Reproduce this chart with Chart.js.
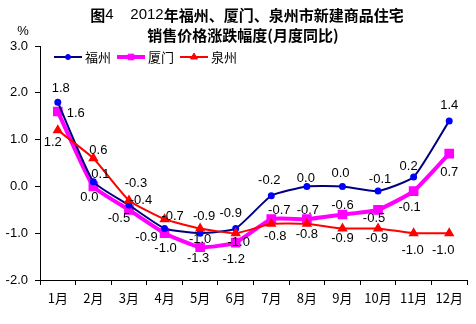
<!DOCTYPE html>
<html>
<head>
<meta charset="utf-8">
<script src="https://cdn.jsdelivr.net/npm/chart.js"></script>
<style>
  body { margin: 0; background: #fff; }
  canvas { display: block; }
</style>
</head>
<body>
<canvas id="chart" width="476" height="324"></canvas>
<script>
const months = ['1月', '2月', '3月', '4月', '5月', '6月', '7月', '8月', '9月', '10月', '11月', '12月'];
const fuzhou = [1.8, 0.1, -0.4, -0.9, -1.0, -0.9, -0.2, 0.0, 0.0, -0.1, 0.2, 1.4];
const xiamen = [1.6, 0.0, -0.5, -1.0, -1.3, -1.2, -0.7, -0.7, -0.6, -0.5, -0.1, 0.7];
const quanzhou = [1.2, 0.6, -0.3, -0.7, -0.9, -1.0, -0.8, -0.8, -0.9, -0.9, -1.0, -1.0];
const seriesNames = ['福州', '厦门', '泉州'];
const yTicks = [-2, -1, 0, 1, 2, 3];

const FONT = '"Liberation Sans", "Noto Sans CJK SC", sans-serif';
const CJK = '"Noto Sans CJK SC", "Liberation Sans", sans-serif';

// where each value label sits relative to its point (dx, dy)
const labelOffsets = [
    [[3,-14],[7,-7],[12,-5],[-18,9],[0,6],[-5,-15],[-2,-15],[-1,-8],[-2,-13],[2,-12],[-5,-11],[0,-15]],
    [[18,2],[-4,11],[-10,9],[1,15],[-2,11],[-2,17],[8,-9],[1,-9],[0,-9],[-4,9],[-4,16],[0,19]],
    [[-5,12],[5,-8],[7,-17],[8,-3],[4,-12],[3,9],[4,13],[0,11],[0,10],[-1,10],[-1,17],[-6,17]]
];

// Title, % mark, legend and value labels
const decorations = {
    id: 'decorations',
    beforeDraw(chart) {
        const ctx = chart.ctx;
        ctx.save();
        ctx.fillStyle = '#fff';
        ctx.fillRect(0, 0, chart.width, chart.height);
        ctx.restore();
    },
    afterDatasetsDraw(chart) {
        const ctx = chart.ctx;
        ctx.save();
        ctx.fillStyle = '#000';
        ctx.textBaseline = 'middle';

        // title line 1, mixed weights
        const parts = [
            ['bold 15px ' + CJK, '图'],
            ['15px ' + FONT, '4'],
            ['15px ' + FONT, '    2012'],
            ['bold 15px ' + CJK, '年福州、厦门、泉州市新建商品住宅']
        ];
        let total = 0;
        parts.forEach(p => { ctx.font = p[0]; total += ctx.measureText(p[1]).width; });
        let x = 247 - total / 2;
        ctx.textAlign = 'left';
        parts.forEach(p => {
            ctx.font = p[0];
            ctx.fillText(p[1], x, 15);
            x += ctx.measureText(p[1]).width;
        });
        ctx.font = 'bold 15px ' + CJK;
        ctx.textAlign = 'center';
        ctx.fillText('销售价格涨跌幅度(月度同比)', 243, 35);

        ctx.font = '13px ' + FONT;
        ctx.fillText('%', 23, 31);

        // legend inside the plot
        let lx = chart.chartArea.left + 14;
        const ly = chart.chartArea.top + 11;
        chart.data.datasets.forEach(ds => {
            ctx.strokeStyle = ds.borderColor;
            ctx.lineWidth = ds.borderWidth;
            ctx.beginPath();
            ctx.moveTo(lx, ly);
            ctx.lineTo(lx + 28, ly);
            ctx.stroke();
            ctx.fillStyle = ds.pointBackgroundColor;
            ctx.strokeStyle = ds.pointBorderColor;
            ctx.lineWidth = 1;
            Chart.helpers.drawPoint(ctx, {
                pointStyle: ds.pointStyle, radius: ds.pointRadius, rotation: 0, borderWidth: 1
            }, lx + 14, ly);
            ctx.fillStyle = '#000';
            ctx.font = '13px ' + CJK;
            ctx.textAlign = 'left';
            ctx.fillText(ds.label, lx + 31, ly);
            lx += 31 + ctx.measureText(ds.label).width + 6;
        });

        // value labels
        ctx.font = '13px ' + FONT;
        ctx.textAlign = 'center';
        ctx.fillStyle = '#000';
        chart.data.datasets.forEach((ds, di) => {
            const meta = chart.getDatasetMeta(di);
            meta.data.forEach((pt, i) => {
                const off = labelOffsets[di][i];
                ctx.fillText(ds.data[i].toFixed(1), pt.x + off[0], pt.y + off[1]);
            });
        });
        ctx.restore();
    }
};

new Chart(document.getElementById('chart'), {
    type: 'line',
    data: {
        labels: months,
        datasets: [
            {
                label: seriesNames[0],
                data: fuzhou,
                borderColor: '#000080',
                borderWidth: 2,
                pointStyle: 'circle',
                pointRadius: 2.5,
                pointBackgroundColor: '#0000ff',
                pointBorderColor: '#0000ff',
                tension: 0.15,
                order: 1
            },
            {
                label: seriesNames[1],
                data: xiamen,
                borderColor: '#ff00ff',
                borderWidth: 4,
                pointStyle: 'rect',
                pointRadius: 4,
                pointBackgroundColor: '#ff00ff',
                pointBorderColor: '#ff00ff',
                tension: 0.15,
                order: 2
            },
            {
                label: seriesNames[2],
                data: quanzhou,
                borderColor: '#ff0000',
                borderWidth: 2,
                pointStyle: 'triangle',
                pointRadius: 4,
                pointBackgroundColor: '#ff0000',
                pointBorderColor: '#ff0000',
                tension: 0.15,
                order: 0
            }
        ]
    },
    options: {
        responsive: false,
        animation: false,
        devicePixelRatio: 1,
        layout: { padding: { top: 46, right: 9, left: 0, bottom: 0 } },
        plugins: {
            legend: { display: false },
            title: { display: false },
            tooltip: { enabled: false }
        },
        scales: {
            x: {
                offset: true,
                grid: { offset: true, drawOnChartArea: false, drawTicks: true, tickLength: 5, color: '#000' },
                border: { color: '#000', width: 1 },
                ticks: { color: '#000', font: { family: CJK, size: 13 }, padding: 5, maxRotation: 0 },
                afterFit(scale) { scale.height = 44; }
            },
            y: {
                min: yTicks[0],
                max: yTicks[yTicks.length - 1],
                afterBuildTicks(scale) { scale.ticks = yTicks.map(v => ({ value: v })); },
                grid: { drawOnChartArea: false, drawTicks: true, tickLength: 5, color: '#000' },
                border: { color: '#000', width: 1 },
                ticks: {
                    color: '#000',
                    font: { family: FONT, size: 13 },
                    padding: 7,
                    callback: v => v.toFixed(1)
                },
                afterFit(scale) { scale.width = 40; }
            }
        }
    },
    plugins: [decorations]
});
</script>
</body>
</html>
